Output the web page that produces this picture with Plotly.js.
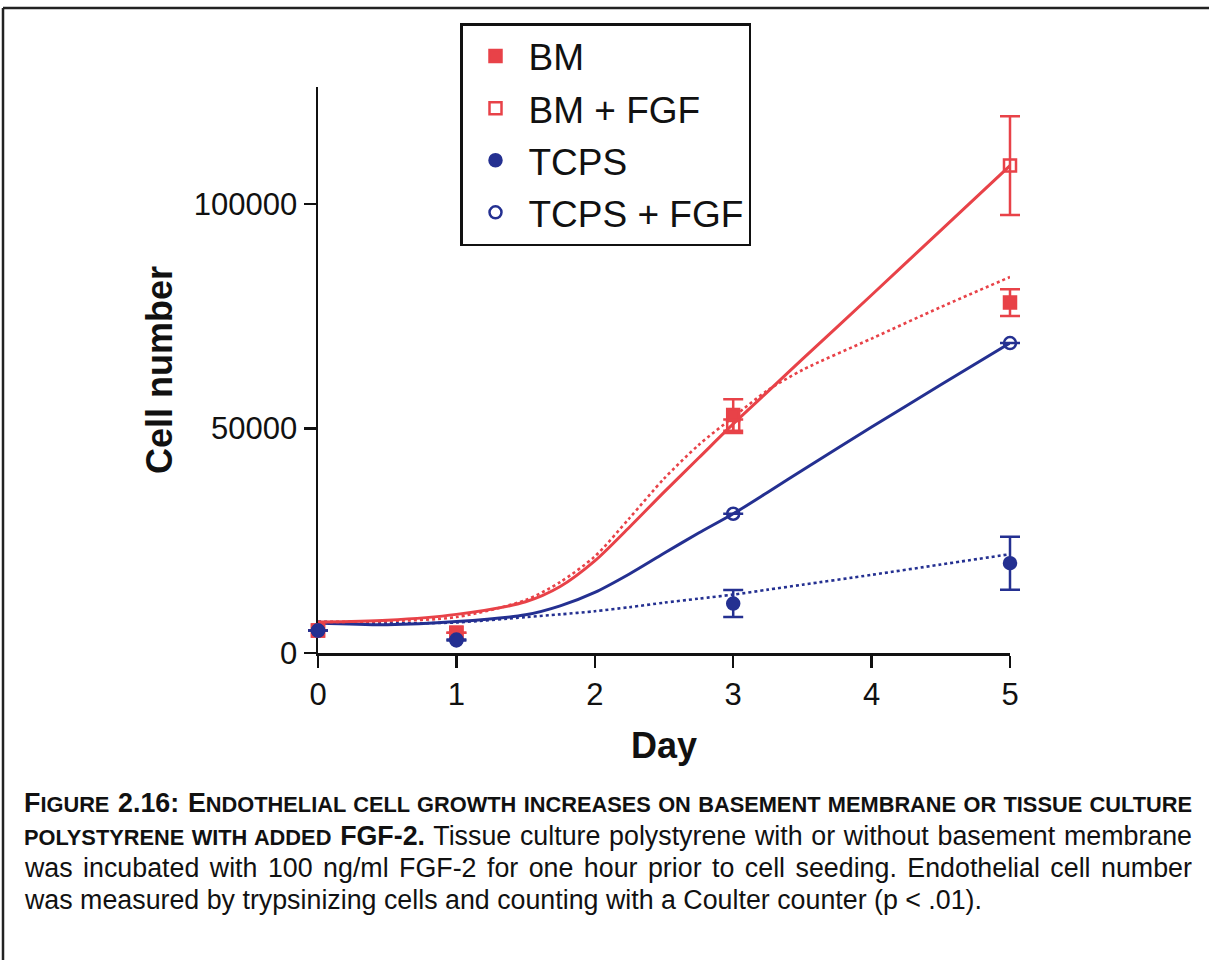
<!DOCTYPE html>
<html>
<head>
<meta charset="utf-8">
<script src="https://cdn.plot.ly/plotly-3.0.1.min.js"></script>
<style>
  html, body { margin: 0; padding: 0; background: #ffffff; }
  #chart { width: 1209px; height: 960px; }
</style>
</head>
<body>
<div id="chart"></div>
<script>
// ---- data ----
const days = [0, 1, 3, 5];

const seriesNames = ["BM", "BM + FGF", "TCPS", "TCPS + FGF"];

const bmMean      = [5000, 4500, 53000, 78000];
const bmErr       = [0, 0, 3500, 3000];
const bmFgfMean   = [5000, 4500, 50500, 108500];
const bmFgfErr    = [0, 0, 1500, 11000];
const tcpsMean    = [5000, 2800, 11000, 20000];
const tcpsErr     = [0, 0, 3000, 5900];
const tcpsFgfMean = [5000, 3000, 31000, 69000];
const tcpsFgfErr  = [0, 0, 0, 0];

// fitted curves, values
const fitDays    = [0, 0.5, 1, 1.5, 1.75, 2, 2.25, 2.5, 2.75, 3, 3.25, 3.5, 4, 4.5, 5];
const bmFit      = [6900, 7100, 8000, 11800, 15800, 21500, 30000, 38800, 46300, 52500, 58500, 63000, 70000, 77000, 83700];
const bmFgfFit   = [6900, 7300, 8600, 11400, 14800, 20500, 28000, 35800, 43400, 51000, 58200, 65400, 79700, 94100, 108500];
const tcpsFit    = [7000, 6600, 6800, 8000, 8600, 9300, 10200, 11200, 12100, 13000, 14100, 15200, 17400, 19700, 22000];
const tcpsFgfFit = [6700, 6300, 7000, 8500, 10500, 13500, 17600, 22200, 26700, 31000, 35800, 40700, 50300, 59700, 69000];

const xTickVals = [0, 1, 2, 3, 4, 5];
const xTickText = ["0", "1", "2", "3", "4", "5"];
const yTickVals = [0, 50000, 100000];
const yTickText = ["0", "50000", "100000"];

// ---- styles ----
const RED = "rgb(232,66,72)";
const BLUE = "rgb(36,48,145)";
const FONT = "Liberation Sans, Arial, Helvetica, sans-serif";

// geometry (px): x=0 at 318, x=5 at 1010; y=0 at 653, top at 87
const W = 1209, H = 960;
const ML = 298, MR = 179, T = 87, B = 653;
const plotW = W - ML - MR;
const d0 = (318 - ML) / plotW, d1 = (1010 - ML) / plotW;
const perDay = (1010 - 318) / 5;
const x2Range = [0 - (318 - ML) / perDay, 5 + (W - MR - 1010) / perDay];
const px = v => (v - ML) / plotW;
const py = v => (B - v) / (B - T);

function fitTrace(y, color, dash) {
  return {
    x: fitDays, y: y, type: "scatter", mode: "lines", xaxis: "x", yaxis: "y",
    line: { color: color, width: dash === "solid" ? 3 : 2.6, dash: dash, shape: "spline", smoothing: 0.8 },
    showlegend: false, hoverinfo: "skip"
  };
}
function pointTrace(name, y, err, color, symbol, group) {
  return {
    x: days, y: y, name: name, type: "scatter", mode: "markers", xaxis: "x2", yaxis: "y",
    legendgroup: group,
    marker: { color: color, symbol: symbol, size: 12, line: { color: color, width: 2.5 } },
    error_y: { type: "data", array: err, visible: true, color: color, thickness: 2.5, width: 10 },
    cliponaxis: false
  };
}

const data = [
  fitTrace(tcpsFit, BLUE, "dot"),
  fitTrace(tcpsFgfFit, BLUE, "solid"),
  fitTrace(bmFit, RED, "dot"),
  fitTrace(bmFgfFit, RED, "solid"),
  pointTrace(seriesNames[0], bmMean, bmErr, RED, "square", "g1"),
  pointTrace(seriesNames[1], bmFgfMean, bmFgfErr, RED, "square-open", "g2"),
  pointTrace(seriesNames[2], tcpsMean, tcpsErr, BLUE, "circle", "g3"),
  pointTrace(seriesNames[3], tcpsFgfMean, tcpsFgfErr, BLUE, "circle-open", "g4")
];

const SC = "font-size:21.8px";
const captionLines = [
  "<b>F<span style='" + SC + "'>IGURE</span> 2.16: E<span style='" + SC + "'>NDOTHELIAL CELL GROWTH INCREASES ON BASEMENT MEMBRANE OR TISSUE CULTURE</span></b>",
  "<b><span style='" + SC + "'>POLYSTYRENE WITH ADDED</span> FGF-2.</b> Tissue culture polystyrene with or without basement membrane",
  "was incubated with 100 ng/ml FGF-2 for one hour prior to cell seeding. Endothelial cell number",
  "was measured by trypsinizing cells and counting with a Coulter counter (p &lt; .01)."
];
const captionY = [803, 836, 868, 900];
const captionLeft = 22, captionRight = 1190;

const annotations = captionLines.map((t, i) => ({
  text: t, xref: "paper", yref: "paper", x: px(captionLeft), y: py(captionY[i]),
  xanchor: "left", yanchor: "middle", showarrow: false, align: "left",
  font: { family: FONT, size: 26.8, color: "#111" }
}));

const axisCommon = {
  ticks: "outside", ticklen: 12, tickwidth: 2.5, tickcolor: "#111",
  showline: true, linewidth: 2.5, linecolor: "#111",
  showgrid: false, zeroline: false, fixedrange: true,
  tickfont: { size: 31, family: FONT, color: "#111" },
  automargin: false
};

const layout = {
  width: W, height: H,
  margin: { l: ML, r: MR, t: T, b: H - B, pad: 0 },
  paper_bgcolor: "#ffffff", plot_bgcolor: "rgba(0,0,0,0)",
  font: { family: FONT, color: "#111" },
  xaxis: Object.assign({}, axisCommon, {
    domain: [d0, d1], anchor: "y",
    range: [0, 5], tickvals: xTickVals, ticktext: xTickText,
    title: { text: "Day", font: { size: 36, family: FONT, weight: "bold", color: "#111" }, standoff: 22 }
  }),
  xaxis2: {
    domain: [0, 1], anchor: "y", range: x2Range, visible: false, fixedrange: true,
    showgrid: false, zeroline: false
  },
  yaxis: Object.assign({}, axisCommon, {
    anchor: "x",
    range: [0, 126000], tickvals: yTickVals, ticktext: yTickText,
    title: { text: "Cell number", font: { size: 36, family: FONT, weight: "bold", color: "#111" }, standoff: 10 }
  }),
  legend: {
    x: px(460), y: py(23), xanchor: "left", yanchor: "top",
    bgcolor: "#ffffff", bordercolor: "#111", borderwidth: 2.5,
    font: { size: 37, family: FONT, color: "#111" },
    tracegroupgap: 1, traceorder: "grouped", itemwidth: 56
  },
  showlegend: true,
  annotations: annotations,
  shapes: [
    { type: "line", xref: "paper", yref: "paper", x0: px(3), x1: px(1209), y0: py(8), y1: py(8), line: { color: "#222", width: 2.5 } },
    { type: "line", xref: "paper", yref: "paper", x0: px(3), x1: px(3), y0: py(8), y1: py(960), line: { color: "#222", width: 2.5 } }
  ]
};

Plotly.newPlot("chart", data, layout, { displayModeBar: false, staticPlot: true }).then(gd => {
  // justify the first three caption lines (like the original justified paragraph)
  const texts = gd.querySelectorAll(".annotation-text");
  for (let i = 0; i < 3 && i < texts.length; i++) {
    const el = texts[i];
    const w = el.getBBox().width;
    const spaces = (el.textContent.match(/ /g) || []).length;
    if (spaces > 0) {
      const ws = (captionRight - captionLeft - w) / spaces;
      if (ws > -5 && ws < 20) el.style.wordSpacing = ws.toFixed(2) + "px";
    }
  }
});
</script>
</body>
</html>
